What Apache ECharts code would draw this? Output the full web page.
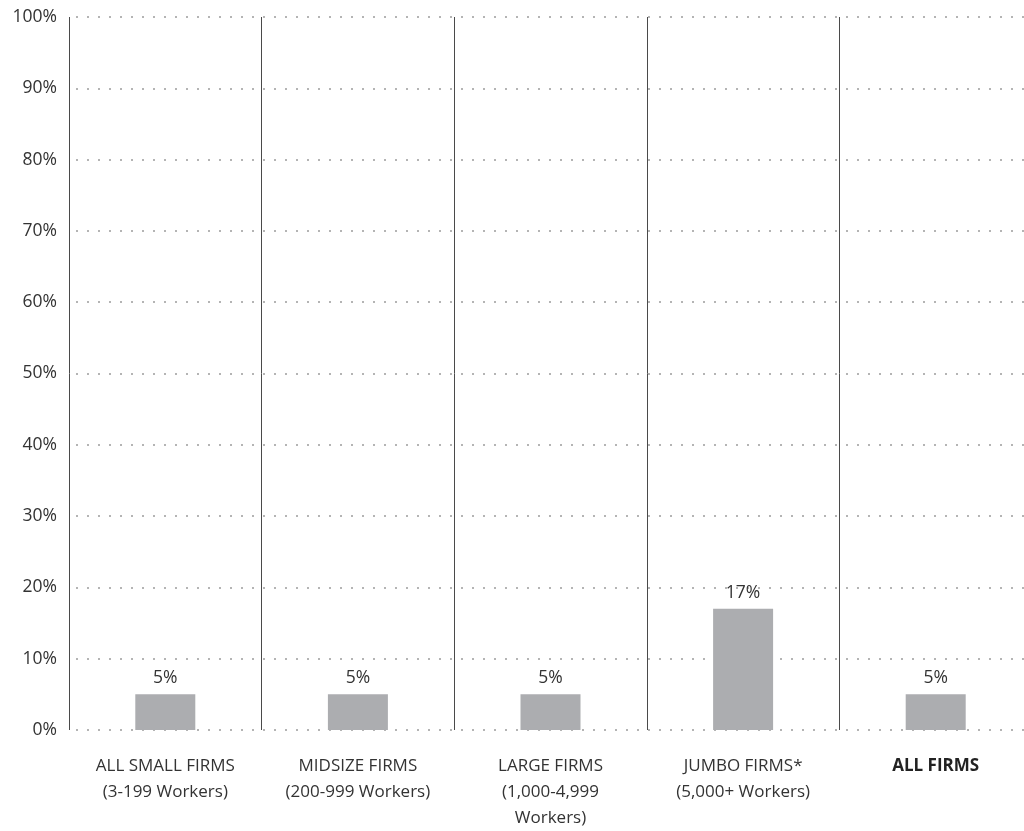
<!DOCTYPE html>
<html>
<head>
<meta charset="utf-8">
<style>
  html, body { margin: 0; padding: 0; background: #fff; overflow: hidden; }
  /* the last column runs a little past the right edge of the window */
  #chart { width: 1032px; height: 831px; }
</style>
<script src="https://cdn.jsdelivr.net/npm/echarts@6/dist/echarts.min.js"></script>
</head>
<body>
<div id="chart"></div>
<script>
// Firm-size groups along the bottom
const categories = [
  'ALL SMALL FIRMS\n(3-199 Workers)',
  'MIDSIZE FIRMS\n(200-999 Workers)',
  'LARGE FIRMS\n(1,000-4,999\nWorkers)',
  'JUMBO FIRMS*\n(5,000+ Workers)',
  'ALL FIRMS'
];
// Share of firms, percent
const values = [5, 5, 5, 17, 5];
// Vertical scale
const yMin = 0;
const yMax = 100;
const yStep = 10;

const FONT = '"Open Sans", "Noto Sans", sans-serif';
const chart = echarts.init(document.getElementById('chart'), null, { renderer: 'canvas' });

chart.setOption({
  animation: false,
  backgroundColor: '#ffffff',
  grid: { left: 69, top: 17, bottom: 101, right: 0, containLabel: false },
  xAxis: {
    type: 'category',
    data: categories,
    boundaryGap: true,
    axisLine: { show: false },
    axisTick: { show: false },
    splitLine: {
      show: true,
      interval: 0,
      lineStyle: { color: '#4a4a4a', width: 1 }
    },
    axisLabel: {
      interval: 0,
      margin: 23,
      fontFamily: FONT,
      fontSize: 17,
      lineHeight: 26,
      color: '#333333',
      formatter: function (v) {
        return v === 'ALL FIRMS' ? '{b|' + v + '}' : v;
      },
      rich: {
        b: { fontFamily: FONT, fontSize: 17, fontWeight: 'bold', color: '#222222', lineHeight: 26 }
      }
    }
  },
  yAxis: {
    type: 'value',
    min: yMin,
    max: yMax,
    interval: yStep,
    axisLine: { show: false },
    axisTick: { show: false },
    axisLabel: {
      margin: 12,
      fontFamily: FONT,
      fontSize: 17.5,
      color: '#333333',
      formatter: '{value}%'
    },
    splitLine: {
      show: true,
      lineStyle: {
        color: '#b4b4b4',
        width: 2,
        type: [2, 9],
        dashOffset: 4
      }
    }
  },
  series: [{
    type: 'bar',
    data: values,
    barWidth: 60,
    itemStyle: { color: '#acadb0' },
    label: {
      show: true,
      position: 'top',
      distance: 7,
      fontFamily: FONT,
      fontSize: 17.5,
      color: '#333333',
      formatter: '{c}%'
    }
  }]
});
</script>
</body>
</html>
